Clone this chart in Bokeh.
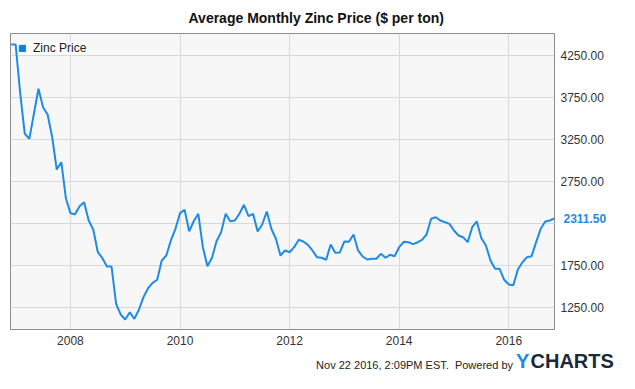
import pandas as pd
from bokeh.plotting import figure
from bokeh.layouts import column
from bokeh.models import (Range1d, FixedTicker, Legend, LegendItem, LinearAxis,
                          ColumnDataSource, Div)
from bokeh.embed import file_html
from bokeh.resources import INLINE

# ---------------- data ----------------
title_text = "Average Monthly Zinc Price ($ per ton)"
series_name = "Zinc Price"
start_month = "2006-12-01"
end_month = "2016-11-01"
zinc_price = [
    4380, 4380, 3800, 3318, 3258, 3556, 3854, 3635, 3548, 3277, 2893, 2980,   # Dec06-Nov07
    2551, 2373, 2361, 2456, 2504, 2286, 2179, 1908, 1837, 1738, 1738, 1294,   # Dec07-Nov08
    1167, 1107, 1194, 1115, 1223, 1373, 1480, 1544, 1580, 1810, 1869, 2048,   # Dec08-Nov09
    2187, 2373, 2413, 2158, 2277, 2365, 1968, 1742, 1842, 2039, 2146, 2365,   # Dec09-Nov10
    2277, 2286, 2365, 2473, 2337, 2365, 2155, 2238, 2393, 2187, 2068, 1869,   # Dec10-Nov11
    1929, 1908, 1968, 2056, 2036, 1996, 1929, 1849, 1842, 1818, 2000, 1901,   # Dec11-Nov12
    1905, 2036, 2032, 2119, 1929, 1857, 1821, 1830, 1830, 1889, 1842, 1877,   # Dec12-Nov13
    1861, 1968, 2032, 2028, 2004, 2024, 2056, 2119, 2306, 2325, 2286, 2266,   # Dec13-Nov14
    2246, 2167, 2107, 2087, 2028, 2206, 2274, 2075, 1988, 1810, 1711, 1711,   # Dec14-Nov15
    1580, 1524, 1515, 1702, 1789, 1849, 1861, 2028, 2187, 2274, 2286, 2311.5, # Dec15-Nov16
]
last_value_text = "2311.50"
x_ticks = [2008, 2010, 2012, 2014, 2016]
x_tick_labels = ["2008", "2010", "2012", "2014", "2016"]
grid_y_ticks = [1250, 1750, 2250, 2750, 3250, 3750, 4250]
y_ticks = [1250, 1750, 2750, 3250, 3750, 4250]          # 2250 is hidden by the last-value flag
y_tick_labels = ["1250.00", "1750.00", "2750.00", "3250.00", "3750.00", "4250.00"]
footer_text = "Nov 22 2016, 2:09PM EST.&nbsp; Powered by"
logo_y = "Y"
logo_rest = "CHARTS"

dates = pd.date_range(start_month, end_month, freq="MS")
xs = list(dates.year + (dates.month - 1) / 12.0)

# ---------------- style ----------------
LINE = "#1e8be6"
SQUARE = "#0a80e2"
FONT = "Liberation Sans"
X0, X1 = 2006.906, 2016.835
Y0, Y1 = 988, 4512
W = 619
H_MAIN = 350
H_FOOT = 23

p = figure(width=W, height=H_MAIN, output_backend="svg", toolbar_location=None,
           x_range=Range1d(X0, X1), y_range=Range1d(Y0, Y1),
           y_axis_location="right",
           min_border_left=10, min_border_right=65, min_border_top=33,
           min_border_bottom=21,
           background_fill_color="#f7f7f7", border_fill_color="white",
           outline_line_color="#8c8c8c", outline_line_width=1)

p.title.text = title_text
p.title.align = "left"
p.title.offset = 178
p.title.standoff = 15
p.title.text_font = FONT
p.title.text_font_size = "14px"
p.title.text_font_style = "bold"
p.title.text_color = "#111111"

p.xgrid.ticker = FixedTicker(ticks=x_ticks)
p.ygrid.ticker = FixedTicker(ticks=grid_y_ticks)
p.grid.grid_line_color = "#d9d9d9"
p.grid.grid_line_width = 1

p.xaxis.ticker = FixedTicker(ticks=x_ticks)
p.xaxis.major_label_overrides = {t: l for t, l in zip(x_ticks, x_tick_labels)}
p.yaxis.ticker = FixedTicker(ticks=y_ticks)
p.yaxis.major_label_overrides = {t: l for t, l in zip(y_ticks, y_tick_labels)}

# last-value flag as a second right axis, pulled back over the first one
last_axis = LinearAxis(ticker=FixedTicker(ticks=[zinc_price[-1]]),
                       major_label_overrides={zinc_price[-1]: last_value_text})
p.add_layout(last_axis, "right")

for ax in (p.xaxis[0], p.yaxis[0], last_axis):
    ax.axis_line_color = None
    ax.major_tick_line_color = None
    ax.minor_tick_line_color = None
    ax.major_tick_out = 0
    ax.major_tick_in = 0
    ax.major_label_text_font = FONT
    ax.major_label_text_font_size = "12px"
    ax.major_label_text_color = "#333333"
p.xaxis.major_label_standoff = 6
p.yaxis[0].major_label_standoff = 6
last_axis.major_label_standoff = -43
last_axis.major_label_text_color = LINE
last_axis.major_label_text_font_style = "bold"

src = ColumnDataSource(dict(x=xs, y=zinc_price))
p.line("x", "y", source=src, line_color=LINE, line_width=2)

# legend swatch renderer (a single NaN entry: draws nothing in the plot)
sw = ColumnDataSource(dict(l=[float("nan")], r=[float("nan")], t=[float("nan")], b=[float("nan")]))
sq = p.quad(left="l", right="r", top="t", bottom="b", source=sw,
            fill_color=SQUARE, line_color=SQUARE)
legend = Legend(items=[LegendItem(label=series_name, renderers=[sq])],
                location="top_left", margin=8, padding=5, spacing=0,
                glyph_width=8, glyph_height=8, label_height=12,
                label_standoff=7, label_text_font=FONT,
                label_text_font_size="12px", label_text_color="#222222",
                background_fill_color="white", background_fill_alpha=0.6,
                border_line_color=None)
p.add_layout(legend)

# ---------------- footer ----------------
footer_html = (
    f'<div style="position:relative;width:{W}px;height:{H_FOOT}px;'
    f'font-family:\'{FONT}\',Arial,sans-serif;overflow:hidden;">'
    f'<span style="position:absolute;right:106px;top:10px;font-size:11px;'
    f'line-height:11px;color:#222222;white-space:nowrap;">{footer_text}</span>'
    f'<span style="position:absolute;left:516px;top:1px;font-size:20px;'
    f'line-height:20px;font-weight:bold;color:#1a8ae8;">{logo_y}</span>'
    f'<span style="position:absolute;left:530.5px;top:1px;font-size:20px;'
    f'line-height:20px;font-weight:bold;color:#1b2a3a;">{logo_rest}</span>'
    '</div>'
)
footer = Div(text=footer_html, width=W, height=H_FOOT, margin=0)

layout = column(p, footer, spacing=0)
open("out.html", "w").write(file_html(layout, INLINE))
